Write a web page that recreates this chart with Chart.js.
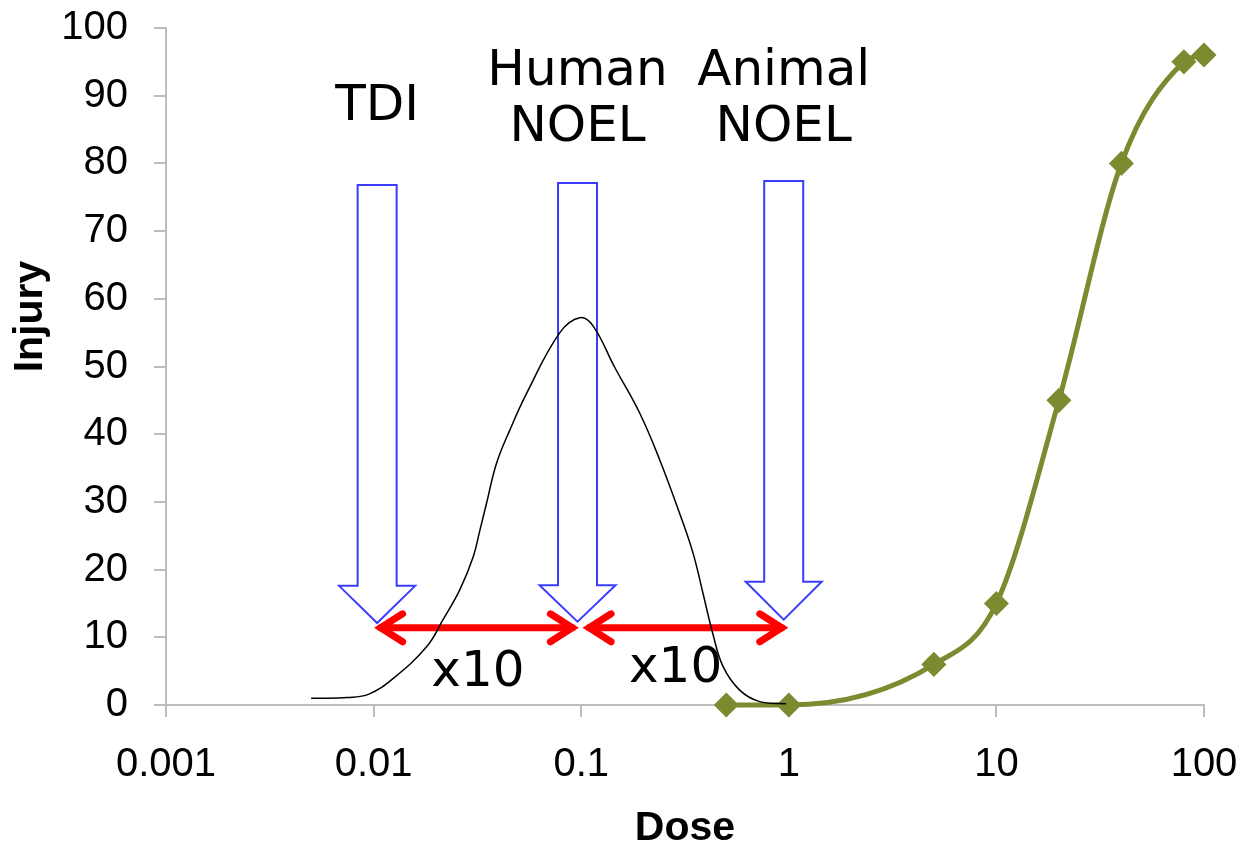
<!DOCTYPE html>
<html>
<head>
<meta charset="utf-8">
<script src="https://cdn.jsdelivr.net/npm/chart.js@4.4.0/dist/chart.umd.min.js"></script>
<style>
  html, body { margin: 0; padding: 0; background: #fff; }
  canvas { display: block; }
</style>
</head>
<body>
<canvas id="chart" width="1244" height="849"></canvas>
<script>
/* ---------------------------------------------------------
   data
--------------------------------------------------------- */
var X_TICKS = [0.001, 0.01, 0.1, 1, 10, 100];

// dose-response curve (green)
var DOSE = [0.5, 1, 5, 10, 20, 40, 80, 100];
var INJURY = [0, 0, 6, 15, 45, 80, 95, 96];

// population sensitivity curve (black)
var BELL_DOSE = [0.005, 0.0075, 0.0095, 0.0124, 0.018, 0.0216, 0.026, 0.0302, 0.0325,
  0.035, 0.0391, 0.0453, 0.0545, 0.0789, 0.0984, 0.114, 0.1443, 0.1915, 0.239,
  0.298, 0.346, 0.386, 0.43, 0.482, 0.58, 0.724, 0.97];
var BELL_INJURY = [1.0, 1.1, 1.6, 3.9, 8.6, 12.6, 17, 21.9, 25.8,
  29.8, 35.7, 40.6, 46, 55, 57.2, 56, 50, 43.1, 36.2,
  28.3, 22.4, 16.5, 10.6, 5.7, 2.2, 0.5, 0.2];

// marker arrows
var MARKER_LABELS = [['TDI'], ['Human', 'NOEL'], ['Animal', 'NOEL']];
var MARKER_DOSE = [0.0104, 0.096, 0.945];
var MARKER_TOP = [76.8, 77.1, 77.4];
var MARKER_NECK = [17.6, 17.7, 18.2];
var MARKER_TIP = [12.1, 12.3, 12.6];
var MARKER_LABEL_Y = [[86.4], [91.6, 83.3], [91.6, 83.3]];

// safety factors
var FACTOR_FROM = [0.01, 0.101];
var FACTOR_TO = [0.098, 1.0];
var FACTOR_Y = 11.4;
var FACTOR_TEXT = ['x10', 'x10'];
var FACTOR_TEXT_DOSE = [0.0318, 0.285];
var FACTOR_TEXT_Y = [2.8, 3.4];

/* ---------------------------------------------------------
   styles
--------------------------------------------------------- */
var GREEN = '#7B8B30';
var AXIS_GREY = '#BDBDBD';
var ARROW_BLUE = '#3C3CFF';
var FACTOR_RED = '#FF0000';
var LABEL_FONT = '50px "DejaVu Sans", Verdana, sans-serif';

Chart.defaults.font.family = "'Liberation Sans', Arial, sans-serif";
Chart.defaults.color = '#000';

function toPoints(xs, ys) {
  return xs.map(function (v, i) { return { x: v, y: ys[i] }; });
}

/* ---------------------------------------------------------
   annotation plugin (arrows, labels, y title)
--------------------------------------------------------- */
var annotations = {
  id: 'annotations',
  beforeDatasetsDraw: function (chart) {
    var ctx = chart.ctx;
    var xs = chart.scales.x;
    var ys = chart.scales.y;
    var area = chart.chartArea;

    ctx.save();

    // hollow blue arrows
    ctx.strokeStyle = ARROW_BLUE;
    ctx.lineWidth = 2;
    ctx.lineJoin = 'miter';
    MARKER_DOSE.forEach(function (d, i) {
      var cx = xs.getPixelForValue(d);
      var top = ys.getPixelForValue(MARKER_TOP[i]);
      var neck = ys.getPixelForValue(MARKER_NECK[i]);
      var tip = ys.getPixelForValue(MARKER_TIP[i]);
      ctx.beginPath();
      ctx.moveTo(cx - 19.5, top);
      ctx.lineTo(cx + 19.5, top);
      ctx.lineTo(cx + 19.5, neck);
      ctx.lineTo(cx + 38, neck);
      ctx.lineTo(cx, tip);
      ctx.lineTo(cx - 38, neck);
      ctx.lineTo(cx - 19.5, neck);
      ctx.closePath();
      ctx.stroke();
    });

    // red double arrows
    ctx.strokeStyle = FACTOR_RED;
    ctx.lineWidth = 7;
    ctx.lineCap = 'round';
    ctx.lineJoin = 'miter';
    var y0 = ys.getPixelForValue(FACTOR_Y);
    FACTOR_FROM.forEach(function (d, i) {
      var x1 = xs.getPixelForValue(d) + 7;
      var x2 = xs.getPixelForValue(FACTOR_TO[i]) - 7;
      ctx.beginPath();
      ctx.moveTo(x1, y0);
      ctx.lineTo(x2, y0);
      ctx.stroke();
      ctx.beginPath();
      ctx.moveTo(x1 + 22, y0 - 14);
      ctx.lineTo(x1, y0);
      ctx.lineTo(x1 + 22, y0 + 14);
      ctx.stroke();
      ctx.beginPath();
      ctx.moveTo(x2 - 22, y0 - 14);
      ctx.lineTo(x2, y0);
      ctx.lineTo(x2 - 22, y0 + 14);
      ctx.stroke();
    });

    // labels
    ctx.fillStyle = '#000';
    ctx.font = LABEL_FONT;
    ctx.textAlign = 'center';
    ctx.textBaseline = 'alphabetic';
    MARKER_LABELS.forEach(function (lines, i) {
      var cx = xs.getPixelForValue(MARKER_DOSE[i]);
      lines.forEach(function (t, j) {
        ctx.fillText(t, cx, ys.getPixelForValue(MARKER_LABEL_Y[i][j]));
      });
    });
    FACTOR_TEXT.forEach(function (t, i) {
      ctx.fillText(t, xs.getPixelForValue(FACTOR_TEXT_DOSE[i]), ys.getPixelForValue(FACTOR_TEXT_Y[i]));
    });

    // y axis title
    ctx.translate(area.left - 135, (area.top + area.bottom) / 2 - 50);
    ctx.rotate(-Math.PI / 2);
    ctx.font = "bold 41px 'Liberation Sans', Arial, sans-serif";
    ctx.textBaseline = 'middle';
    ctx.fillText('Injury', 0, 0);

    ctx.restore();
  }
};

/* ---------------------------------------------------------
   chart
--------------------------------------------------------- */
new Chart(document.getElementById('chart'), {
  type: 'line',
  data: {
    datasets: [{
      label: 'Sensitivity',
      data: toPoints(BELL_DOSE, BELL_INJURY),
      borderColor: '#000',
      borderWidth: 1.5,
      pointRadius: 0,
      tension: 0.4,
      fill: false
    }, {
      label: 'Injury',
      data: toPoints(DOSE, INJURY),
      borderColor: GREEN,
      backgroundColor: GREEN,
      borderWidth: 5,
      pointStyle: 'rectRot',
      pointRadius: 9,
      pointBackgroundColor: GREEN,
      pointBorderColor: GREEN,
      cubicInterpolationMode: 'monotone',
      clip: false,
      fill: false
    }]
  },
  options: {
    responsive: false,
    animation: false,
    devicePixelRatio: 1,
    layout: { padding: { top: 28, right: 40, bottom: 0, left: 0 } },
    plugins: {
      legend: { display: false },
      tooltip: { enabled: false }
    },
    scales: {
      x: {
        type: 'logarithmic',
        min: 0.001,
        max: 100,
        afterBuildTicks: function (scale) {
          scale.ticks = X_TICKS.map(function (v) { return { value: v }; });
        },
        afterFit: function (scale) {
          scale.height = 144;
          scale.paddingLeft = 0;
          scale.paddingRight = 0;
        },
        grid: { drawOnChartArea: false, tickLength: 12, color: AXIS_GREY, lineWidth: 2 },
        border: { color: AXIS_GREY, width: 2 },
        ticks: {
          font: { size: 40 },
          padding: 24,
          autoSkip: false,
          maxRotation: 0,
          callback: function (v) { return String(v); }
        },
        title: {
          display: true,
          text: 'Dose',
          font: { size: 41, weight: 'bold', lineHeight: 1 },
          padding: { top: 0, bottom: 0 }
        }
      },
      y: {
        min: 0,
        max: 100,
        afterFit: function (scale) {
          scale.width = 166;
          scale.paddingTop = 0;
          scale.paddingBottom = 0;
        },
        grid: { drawOnChartArea: false, tickLength: 12, color: AXIS_GREY, lineWidth: 2 },
        border: { color: AXIS_GREY, width: 2 },
        ticks: { stepSize: 10, font: { size: 40 }, padding: 26 }
      }
    }
  },
  plugins: [annotations]
});
</script>
</body>
</html>
